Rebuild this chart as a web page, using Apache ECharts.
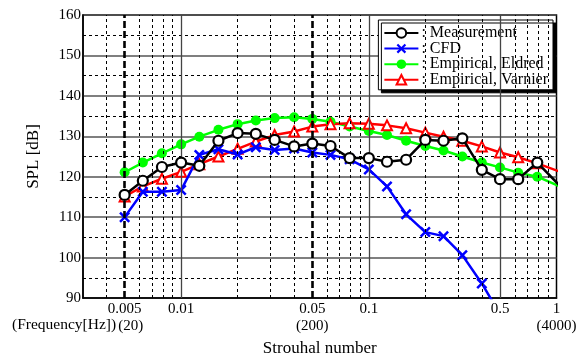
<!DOCTYPE html>
<html>
<head>
<meta charset="utf-8">
<script src="https://cdn.jsdelivr.net/npm/echarts@6/dist/echarts.min.js"></script>
<style>
html,body{margin:0;padding:0;background:#fff;}
#chart{width:581px;height:356px;}
</style>
</head>
<body>
<div id="chart"></div>
<script>
// Strouhal numbers (1/3-octave bands, f/4000); last entry lies beyond the axis and is clipped
var strouhal = [0.005, 0.00625, 0.0079, 0.01, 0.0125, 0.0158, 0.02, 0.025, 0.0315, 0.04, 0.05, 0.0625, 0.079, 0.1, 0.125, 0.158, 0.2, 0.25, 0.315, 0.4, 0.5, 0.625, 0.79, 1.25];
var measurement = [115.5, 119, 122.4, 123.5, 122.7, 128.9, 130.8, 130.6, 129.1, 127.5, 128.2, 127.6, 124.6, 124.6, 123.7, 124.2, 129.1, 128.9, 129.5, 121.7, 119.4, 119.4, 123.5, 114];
var cfd = [110, 116.3, 116.3, 116.7, 125.4, 126.8, 125.5, 127.3, 126.6, 127, 126, 125.4, 124.3, 121.8, 117.6, 110.7, 106.3, 105.3, 100.6, 93.6, 86];
var eldred = [121.1, 123.5, 125.8, 128, 129.9, 131.6, 133, 133.9, 134.5, 134.7, 134.3, 133.6, 132.4, 131.3, 130.3, 128.9, 127.6, 126.5, 125, 123.5, 122.3, 121, 120, 116];
var varnier = [115.1, 117.6, 119.5, 121.2, 123.1, 125, 126.9, 128.7, 130.3, 131.2, 132.4, 133, 133.2, 133.1, 132.7, 132, 130.9, 129.9, 128.9, 127.5, 126, 124.8, 123.3, 119.9];
var seriesNames = ['Measurement', 'CFD', 'Empirical, Eldred', 'Empirical, Varnier'];
// x tick labels
var xTickValues = [0.005, 0.01, 0.05, 0.1, 0.5, 1];
var xTickLabels = ['0.005', '0.01', '0.05', '0.1', '0.5', '1'];
var xFreqLabels = ['(20)', '', '(200)', '', '', '(4000)'];
var freqCaption = '(Frequency[Hz])';
// vertical grid positions
var minorGridX = [0.004, 0.006, 0.007, 0.008, 0.009, 0.02, 0.03, 0.04, 0.06, 0.07, 0.08, 0.09, 0.2, 0.3, 0.4, 0.6, 0.7, 0.8, 0.9];
var majorGridX = [0.01, 0.1, 0.5];
var markerGridX = [0.005, 0.05];

function pairs(vals) {
  return vals.map(function (v, i) { return [strouhal[i], v]; });
}

var FONT = '"Liberation Serif", "Times New Roman", serif';
var crossPath = 'path://M0,1.6L1.6,0L5,3.4L8.4,0L10,1.6L6.6,5L10,8.4L8.4,10L5,6.6L1.6,10L0,8.4L3.4,5Z';

var gridMarks = [];
minorGridX.forEach(function (v) {
  gridMarks.push({ xAxis: v, lineStyle: { color: '#000', width: 1, type: [3, 3] } });
});
majorGridX.forEach(function (v) {
  gridMarks.push({ xAxis: v, lineStyle: { color: '#444', width: 1.3, type: 'solid' } });
});
markerGridX.forEach(function (v) {
  gridMarks.push({ xAxis: v, lineStyle: { color: '#000', width: 2.6, type: [7, 3] } });
});

var chart = echarts.init(document.getElementById('chart'), null, { renderer: 'canvas' });
chart.setOption({
  animation: false,
  backgroundColor: '#fff',
  textStyle: { fontFamily: FONT },
  grid: {
    left: 83, right: 24.5, top: 15, bottom: 58,
    show: true, borderColor: '#000', borderWidth: 1.5,
    outerBoundsMode: 'none'
  },
  graphic: [
    {
      type: 'text', left: 12, top: 317, silent: true,
      style: { text: freqCaption, fontFamily: FONT, fontSize: 15.5, fill: '#000' }
    }
  ],
  legend: {
    data: seriesNames,
    orient: 'vertical',
    right: 28, top: 20,
    itemWidth: 34, itemHeight: 12, itemGap: -0.4,
    padding: [5, 5, 2, 5],
    backgroundColor: '#fff',
    borderColor: '#000', borderWidth: 1,
    borderRadius: 0,
    shadowColor: '#000', shadowBlur: 0, shadowOffsetX: 3, shadowOffsetY: 3,
    formatter: function (n) { return ': ' + n; },
    textStyle: { fontFamily: FONT, fontSize: 16, color: '#000', padding: [0, 0, 0, -2] }
  },
  xAxis: {
    type: 'log', logBase: 10, min: 0.003, max: 1,
    name: 'Strouhal number', nameLocation: 'middle', nameGap: 38,
    nameTextStyle: { fontFamily: FONT, fontSize: 17, color: '#000' },
    axisLine: { show: true, lineStyle: { color: '#000', width: 1.5 } },
    axisTick: { show: false },
    splitLine: { show: false },
    axisLabel: {
      customValues: xTickValues,
      hideOverlap: false,
      margin: 3,
      color: '#000', fontFamily: FONT, fontSize: 15, lineHeight: 17,
      formatter: function (v) {
        var i = -1;
        xTickValues.forEach(function (t, k) { if (Math.abs(t - v) / t < 1e-6) i = k; });
        if (i < 0) return '';
        if (i === 0) return '{a|' + xTickLabels[i] + '}\n{f|' + xFreqLabels[i] + '}';
        if (xFreqLabels[i]) return '{a|' + xTickLabels[i] + '}\n{a|' + xFreqLabels[i] + '}';
        return '{a|' + xTickLabels[i] + '}';
      },
      rich: {
        a: { fontFamily: FONT, fontSize: 15, color: '#000', lineHeight: 17 },
        f: { fontFamily: FONT, fontSize: 15, color: '#000', lineHeight: 17, padding: [0, 0, 0, 12] }
      }
    }
  },
  yAxis: {
    type: 'value', min: 90, max: 160, interval: 10,
    name: 'SPL [dB]', nameLocation: 'middle', nameGap: 41,
    nameTextStyle: { fontFamily: FONT, fontSize: 17, color: '#000' },
    axisLine: { show: true, lineStyle: { color: '#000', width: 1.5 } },
    axisTick: { show: false },
    axisLabel: { color: '#000', fontFamily: FONT, fontSize: 15, margin: 2 },
    splitLine: { show: true, lineStyle: { color: '#555', width: 1.5 } },
    minorTick: { show: false, splitNumber: 2 },
    minorSplitLine: { show: true, lineStyle: { color: '#000', width: 1, type: [3, 3] } }
  },
  series: [
    {
      name: 'grid', type: 'line', data: [], z: 1, silent: true,
      markLine: { silent: true, precision: 10, symbol: 'none', label: { show: false }, animation: false, data: gridMarks }
    },
    {
      name: seriesNames[0], type: 'line', z: 5, data: pairs(measurement),
      symbol: 'circle', symbolSize: 10, showAllSymbol: true,
      itemStyle: { color: '#fff', borderColor: '#000', borderWidth: 2.2 },
      lineStyle: { color: '#000', width: 2.5 }
    },
    {
      name: seriesNames[1], type: 'line', z: 4, data: pairs(cfd),
      symbol: crossPath, symbolSize: 11, showAllSymbol: true,
      itemStyle: { color: '#0000ff' },
      lineStyle: { color: '#0000ff', width: 2.5 }
    },
    {
      name: seriesNames[2], type: 'line', z: 3, data: pairs(eldred),
      symbol: 'circle', symbolSize: 10, showAllSymbol: true,
      itemStyle: { color: '#00ff00' },
      lineStyle: { color: '#00ff00', width: 2.5 }
    },
    {
      name: seriesNames[3], type: 'line', z: 3, data: pairs(varnier),
      symbol: 'triangle', symbolSize: 10, showAllSymbol: true,
      itemStyle: { color: '#fff', borderColor: '#ff0000', borderWidth: 2 },
      lineStyle: { color: '#ff0000', width: 2.5 }
    }
  ]
});
</script>
</body>
</html>
